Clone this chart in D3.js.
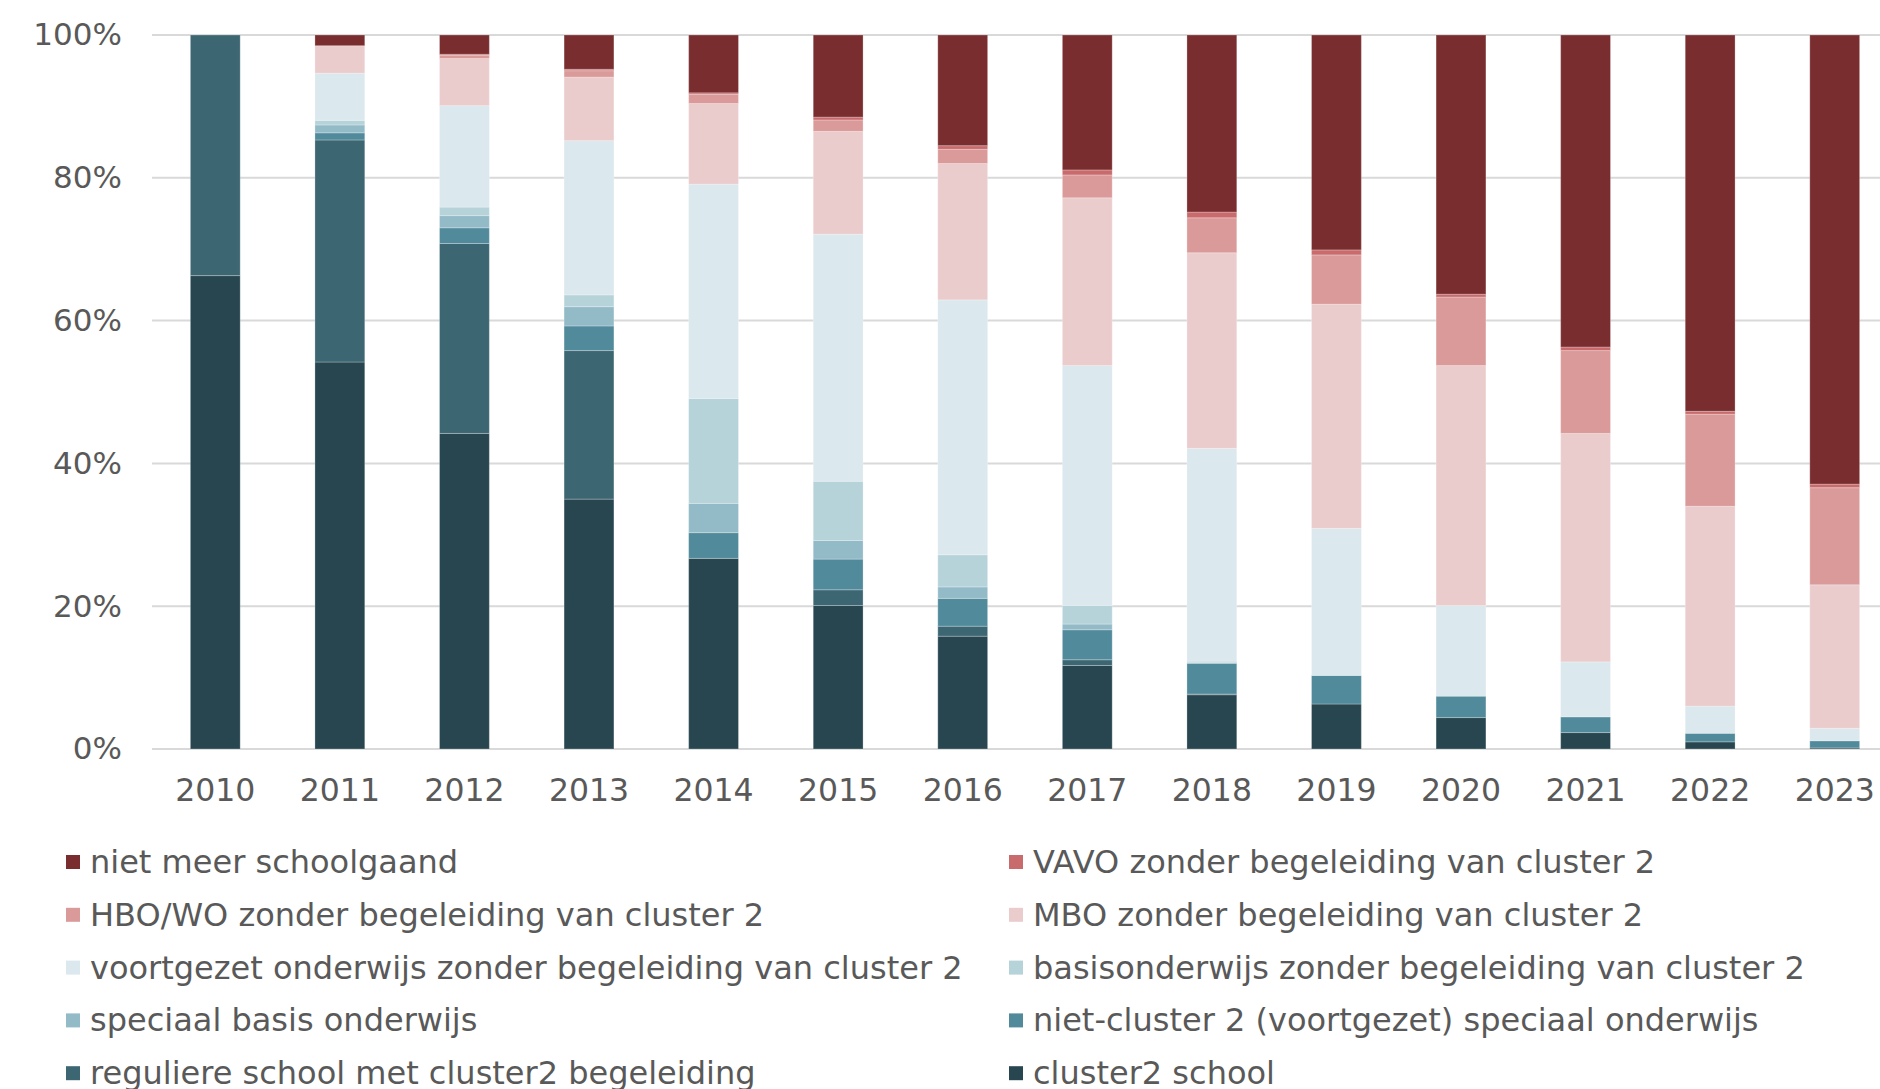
<!DOCTYPE html>
<html>
<head>
<meta charset="utf-8">
<script src="https://cdn.jsdelivr.net/npm/d3@7"></script>
<style>
  html, body { margin: 0; padding: 0; background: #ffffff; overflow: hidden; }
  text { font-family: Verdana, "DejaVu Sans", sans-serif; fill: #595959; }
</style>
</head>
<body>
<div id="chart"></div>
<script>
// Years on the x axis
const years = ["2010", "2011", "2012", "2013", "2014", "2015", "2016",
               "2017", "2018", "2019", "2020", "2021", "2022", "2023"];

// Shares (%) per category, stacked from bottom to top
const cluster2School   = [66.3, 54.2, 44.2, 35.0, 26.7, 20.1, 15.8, 11.7, 7.6, 6.3, 4.4, 2.3, 1.0, 0.15];
const reguliereMetC2   = [33.7, 31.1, 26.6, 20.8, 0, 2.2, 1.4, 0.8, 0.1, 0, 0, 0, 0, 0];
const nietCluster2So   = [0, 1.0, 2.2, 3.45, 3.6, 4.3, 3.9, 4.2, 4.3, 4.0, 3.0, 2.2, 1.2, 1.0];
const speciaalBasis    = [0, 1.1, 1.7, 2.7, 4.1, 2.6, 1.6, 0.8, 0.1, 0, 0, 0, 0, 0];
const basisZonder      = [0, 0.65, 1.2, 1.65, 14.7, 8.3, 4.5, 2.6, 0.2, 0, 0, 0, 0, 0];
const voZonder         = [0, 6.6, 14.2, 21.6, 30.0, 34.6, 35.7, 33.6, 29.8, 20.6, 12.7, 7.7, 3.8, 1.75];
const mboZonder        = [0, 3.85, 6.6, 8.9, 11.3, 14.4, 19.1, 23.5, 27.4, 31.4, 33.6, 32.0, 28.0, 20.1];
const hboWoZonder      = [0, 0, 0.45, 0.9, 1.3, 1.6, 2.0, 3.2, 4.9, 6.9, 9.6, 11.6, 12.9, 13.6];
const vavoZonder       = [0, 0, 0.15, 0.2, 0.2, 0.4, 0.5, 0.7, 0.8, 0.7, 0.4, 0.5, 0.4, 0.5];
const nietMeerSchool   = [0, 1.5, 2.7, 4.8, 8.1, 11.5, 15.5, 18.9, 24.8, 30.1, 36.3, 43.7, 52.7, 62.9];

const yTicks = [0, 20, 40, 60, 80, 100];

// Series definitions: stack order bottom -> top
const series = [
  { key: "cluster2 school", values: cluster2School, color: "#28464f" },
  { key: "reguliere school met cluster2 begeleiding", values: reguliereMetC2, color: "#3d6673" },
  { key: "niet-cluster 2 (voortgezet) speciaal onderwijs", values: nietCluster2So, color: "#518a9b" },
  { key: "speciaal basis onderwijs", values: speciaalBasis, color: "#93bac7" },
  { key: "basisonderwijs zonder begeleiding van cluster 2", values: basisZonder, color: "#b6d3da" },
  { key: "voortgezet onderwijs zonder begeleiding van cluster 2", values: voZonder, color: "#dbe8ed" },
  { key: "MBO zonder begeleiding van cluster 2", values: mboZonder, color: "#ebcccd" },
  { key: "HBO/WO zonder begeleiding van cluster 2", values: hboWoZonder, color: "#db9a9a" },
  { key: "VAVO zonder begeleiding van cluster 2", values: vavoZonder, color: "#c96a6c" },
  { key: "niet meer schoolgaand", values: nietMeerSchool, color: "#7a2d2f" }
];

// Build table rows for d3.stack
const rows = years.map((yr, i) => {
  let row = { year: yr };
  series.forEach(s => { row[s.key] = s.values[i]; });
  return row;
});

let width = 1880, height = 1089;
let margin = { top: 35, bottom: 340, left: 153, right: -17 };

let svg = d3.select('#chart')
  .append('svg')
  .attr('width', width)
  .attr('height', height);

let x = d3.scaleBand()
  .domain(years)
  .range([margin.left, width - margin.right])
  .paddingInner(0.6)
  .paddingOuter(0.3);

let y = d3.scaleLinear()
  .domain([0, 100])
  .range([height - margin.bottom, margin.top]);

// Gridlines
svg.append('g')
  .selectAll('line')
  .data(yTicks)
  .enter()
  .append('line')
  .attr('x1', 152)
  .attr('x2', width)
  .attr('y1', d => y(d))
  .attr('y2', d => y(d))
  .attr('stroke', '#d9d9d9')
  .attr('stroke-width', 2);

// Y axis labels
let yAxis = svg.append('g')
  .attr('transform', `translate(122,0)`)
  .call(d3.axisLeft(y).tickValues(yTicks).tickFormat(d => d + '%').tickSize(0).tickPadding(0));
yAxis.select('.domain').remove();
yAxis.selectAll('text')
  .attr('fill', '#595959')
  .style('font-size', '31px');

// Stacked bars
const stack = d3.stack().keys(series.map(s => s.key));
const stacked = stack(rows);

svg.append('g')
  .selectAll('g')
  .data(stacked)
  .enter()
  .append('g')
  .attr('fill', (d, i) => series[i].color)
  .selectAll('rect')
  .data(d => d)
  .enter()
  .append('rect')
  .attr('x', d => x(d.data.year))
  .attr('y', d => y(d[1]))
  .attr('width', x.bandwidth())
  .attr('height', d => Math.max(0, y(d[0]) - y(d[1])))
  .attr('stroke', '#ffffff')
  .attr('stroke-opacity', 0.25)
  .attr('stroke-width', 1);

// X axis labels
let xAxis = svg.append('g')
  .attr('transform', `translate(0,${height - margin.bottom})`)
  .call(d3.axisBottom(x).tickSize(0).tickPadding(30));
xAxis.select('.domain').remove();
xAxis.selectAll('text')
  .attr('fill', '#595959')
  .style('font-size', '31.5px');

// Legend: two columns, reversed stack order
const legendItems = series.slice().reverse();
const legend = svg.append('g');
legendItems.forEach((s, i) => {
  const col = i % 2;
  const row = Math.floor(i / 2);
  const lx = col === 0 ? 66 : 1009;
  const ly = 862 + row * 52.8;
  legend.append('rect')
    .attr('x', lx)
    .attr('y', ly - 7)
    .attr('width', 14)
    .attr('height', 14)
    .attr('fill', s.color);
  legend.append('text')
    .attr('x', lx + 24)
    .attr('y', ly + 11)
    .style('font-size', '32px')
    .text(s.key);
});
</script>
</body>
</html>
